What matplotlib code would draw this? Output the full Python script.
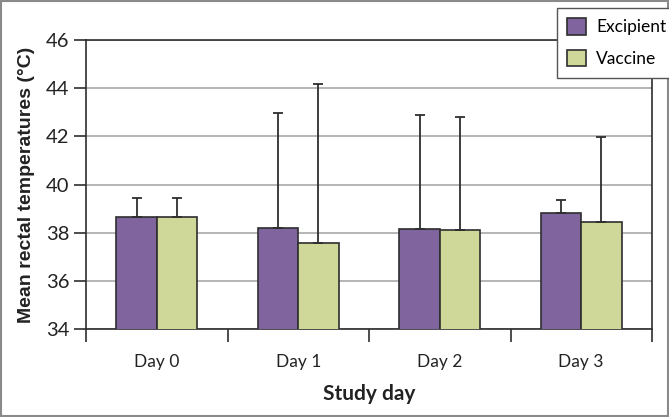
import matplotlib
matplotlib.use("Agg")
import matplotlib.pyplot as plt
import numpy as np
from matplotlib.patches import Rectangle

categories = ["Day 0", "Day 1", "Day 2", "Day 3"]
excipient = [38.67, 38.18, 38.17, 38.81]
excipient_err = [0.79, 4.77, 4.70, 0.54]
vaccine = [38.67, 37.58, 38.10, 38.45]
vaccine_err = [0.79, 6.60, 4.70, 3.52]
series_names = ["Excipient", "Vaccine"]
yticks = [34, 36, 38, 40, 42, 44, 46]

purple = "#7f649e"
green = "#cfd899"
edge = "#2e2e2e"
tick_font = ["Lato", "DejaVu Sans"]

fig = plt.figure(figsize=(6.69, 4.17), dpi=100)
ax = fig.add_axes([86 / 669, 1 - 329 / 417, (652 - 86) / 669, (329 - 40) / 417])

x = np.arange(len(categories))
w = 0.286
b1 = ax.bar(x - w / 2, excipient, w, bottom=0, color=purple, edgecolor=edge, linewidth=1.2, zorder=3, label=series_names[0])
b2 = ax.bar(x + w / 2, vaccine, w, bottom=0, color=green, edgecolor=edge, linewidth=1.2, zorder=3, label=series_names[1])
ax.errorbar(x - w / 2, excipient, yerr=[np.zeros(4), excipient_err], fmt="none",
            ecolor=edge, elinewidth=1.3, capsize=3.5, capthick=1.3, zorder=4)
ax.errorbar(x + w / 2, vaccine, yerr=[np.zeros(4), vaccine_err], fmt="none",
            ecolor=edge, elinewidth=1.3, capsize=3.5, capthick=1.3, zorder=4)

ax.set_ylim(34, 46)
ax.set_xlim(-0.5, len(categories) - 0.5)
ax.set_yticks(yticks)
ax.set_yticklabels([str(t) for t in yticks], fontsize=14.5, family=tick_font, color="#222222")
ax.yaxis.grid(True, color="#b0b0b0", linewidth=1.3, zorder=0)
ax.set_axisbelow(True)

ax.set_xticks(x)
ax.set_xticklabels(categories, fontsize=12.5, family=tick_font, color="#222222")
ax.tick_params(axis="x", length=0, pad=18)
ax.set_xticks(np.arange(len(categories) + 1) - 0.5, minor=True)
ax.tick_params(axis="x", which="minor", length=9, width=1.2, color=edge, direction="out")
ax.tick_params(axis="y", length=9, width=1.2, color=edge, direction="out", pad=3)

for s in ax.spines.values():
    s.set_color(edge)
    s.set_linewidth(1.2)

ax.set_ylabel("Mean rectal temperatures (°C)", fontsize=14, fontweight="bold",
              family=["Liberation Sans", "DejaVu Sans"], color="#222222", labelpad=8)
ax.set_xlabel("Study day", fontsize=15, fontweight="bold", family=tick_font, color="#222222", labelpad=10)

leg = fig.legend(handles=[b1, b2], labels=series_names, loc="upper left",
                 bbox_to_anchor=(557 / 669, 1 - 8 / 417), bbox_transform=fig.transFigure,
                 frameon=True, fancybox=False, edgecolor="#555555", framealpha=1,
                 prop={"family": tick_font, "size": 12.5}, handlelength=1.05, handleheight=1.05,
                 labelspacing=0.85, borderpad=0.6, handletextpad=0.6, borderaxespad=0)
leg.get_frame().set_linewidth(1.0)

fig.patches.append(Rectangle((0.001, 0.002), 0.997, 0.995, transform=fig.transFigure,
                             fill=False, edgecolor="#8a8a8a", linewidth=1.5))

fig.savefig("out.png", dpi=100)
